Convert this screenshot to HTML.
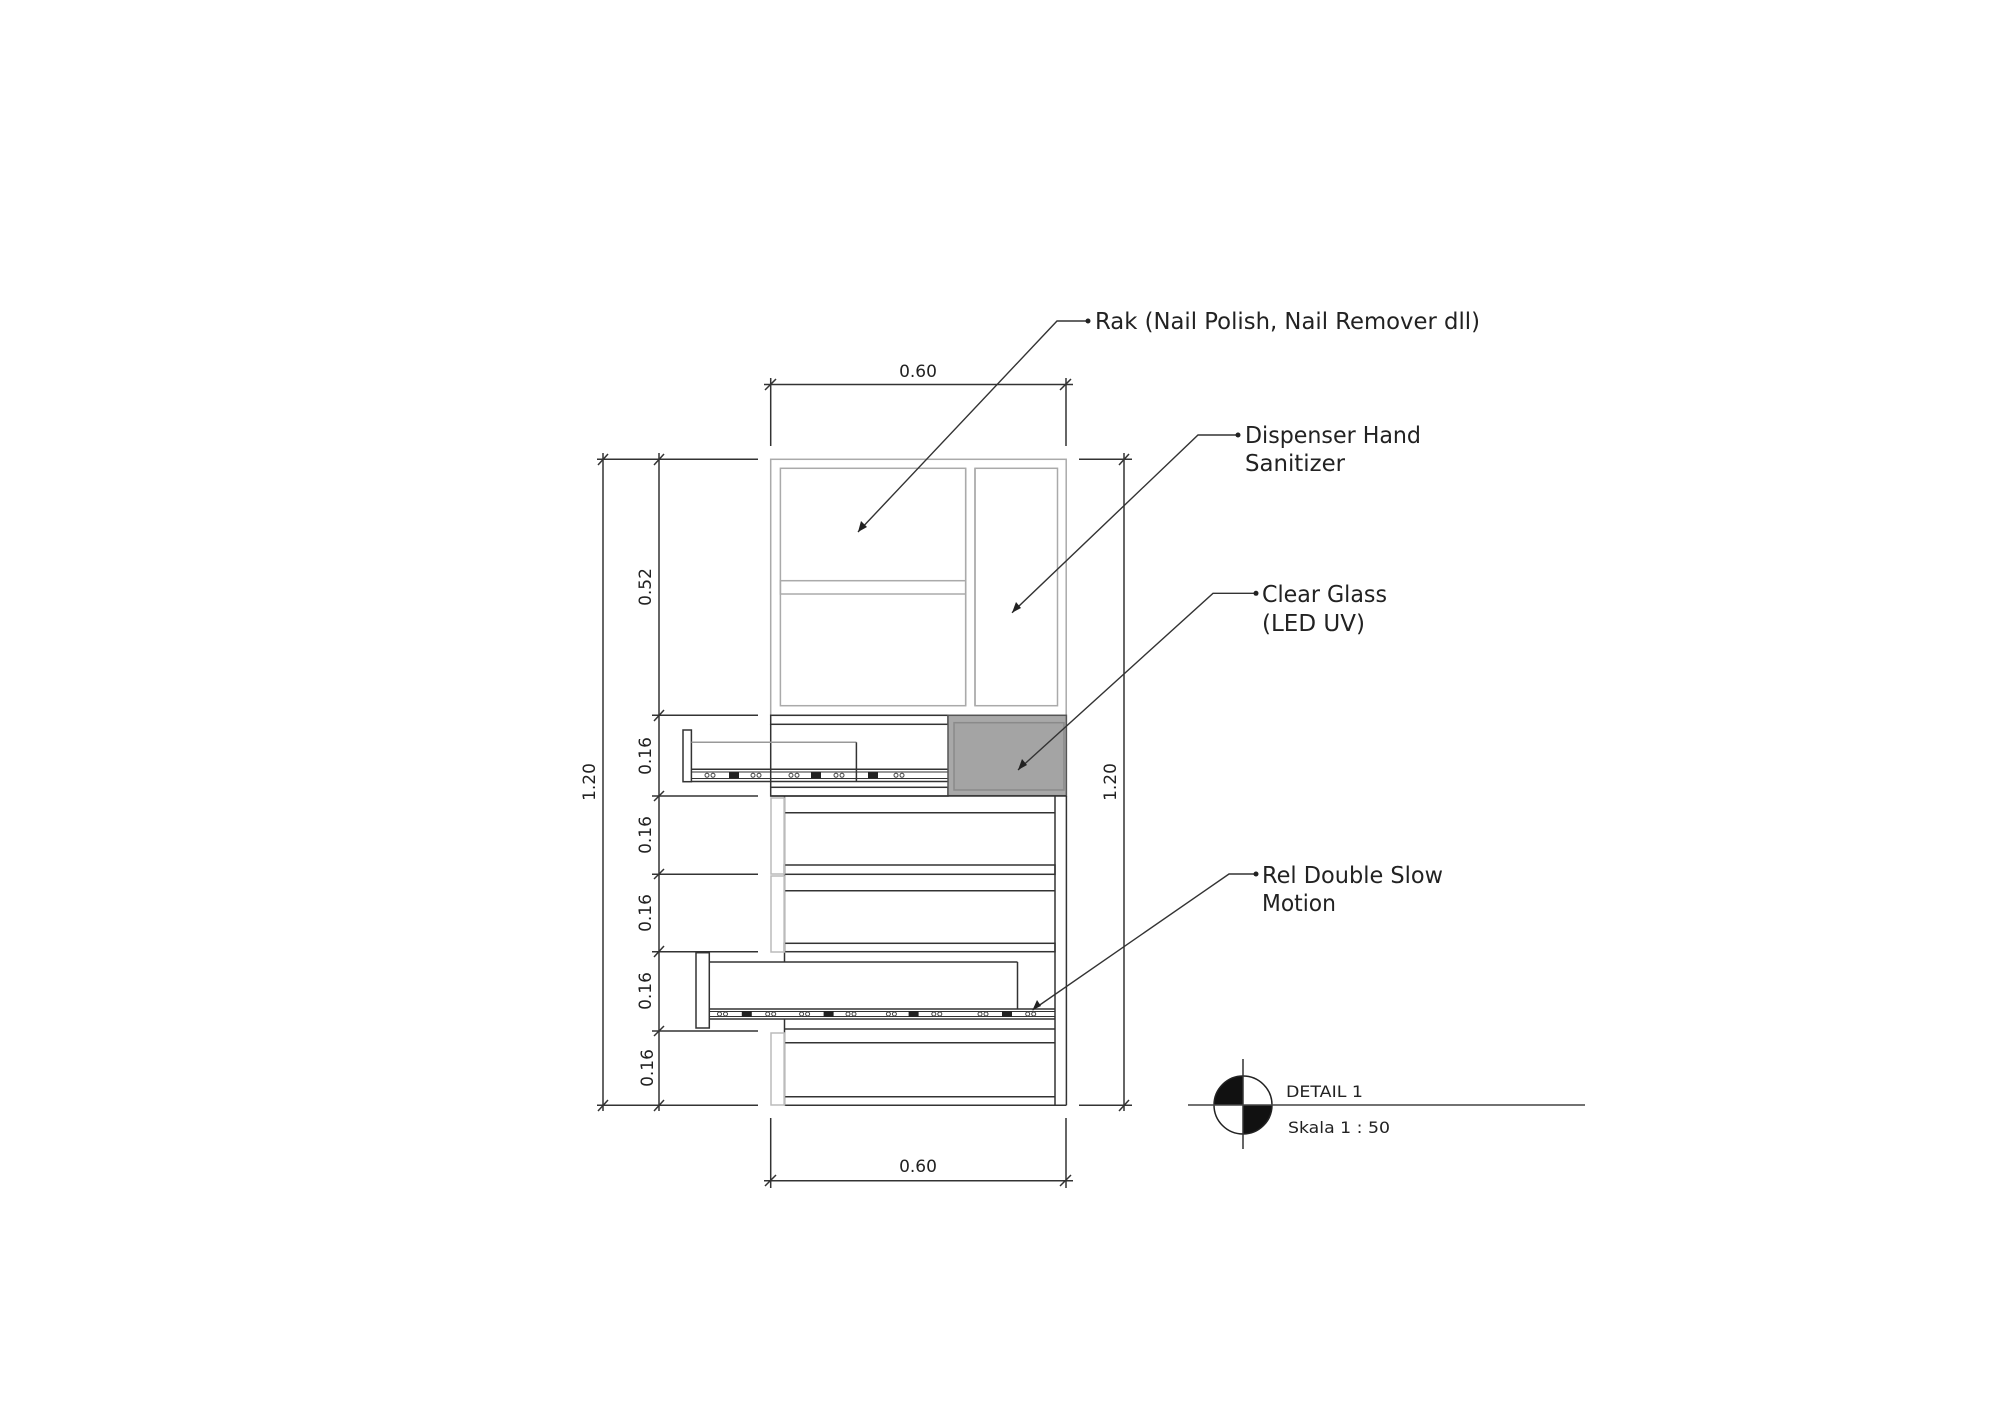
<!DOCTYPE html>
<html><head><meta charset="utf-8"><style>
html,body{margin:0;padding:0;background:#fff}
svg{display:block}
text{font-family:"DejaVu Sans","Liberation Sans",sans-serif;fill:#222}
</style></head><body>
<svg width="2000" height="1414" viewBox="0 0 2000 1414" xmlns="http://www.w3.org/2000/svg">
<defs>
<g id="oo"><circle cx="-3" cy="0" r="2" fill="none" stroke="#444" stroke-width="1"/><circle cx="3" cy="0" r="2" fill="none" stroke="#444" stroke-width="1"/></g>
<g id="sq"><rect x="-5" y="-3" width="10" height="6" fill="#222"/></g>
</defs>

<g stroke="#333" stroke-width="1.5" fill="none">
  <line x1="770.7" y1="378" x2="770.7" y2="446"/>
  <line x1="1066" y1="378" x2="1066" y2="446"/>
  <line x1="764" y1="384.5" x2="1073" y2="384.5"/>
  <line x1="765" y1="390" x2="776" y2="379"/>
  <line x1="1060" y1="390" x2="1071" y2="379"/>
  <line x1="770.7" y1="1118" x2="770.7" y2="1188"/>
  <line x1="1066" y1="1118" x2="1066" y2="1188"/>
  <line x1="764" y1="1180.7" x2="1073" y2="1180.7"/>
  <line x1="765" y1="1186" x2="776" y2="1175"/>
  <line x1="1060" y1="1186" x2="1071" y2="1175"/>
  <line x1="603" y1="453" x2="603" y2="1111"/>
  <line x1="597" y1="459.3" x2="758" y2="459.3"/>
  <line x1="597" y1="1105.3" x2="758" y2="1105.3"/>
  <line x1="598" y1="465" x2="608" y2="454"/>
  <line x1="598" y1="1111" x2="608" y2="1100"/>
  <line x1="659" y1="453" x2="659" y2="1111"/>
  <line x1="652" y1="715.3" x2="758" y2="715.3"/>
  <line x1="652" y1="796" x2="758" y2="796"/>
  <line x1="652" y1="874.3" x2="758" y2="874.3"/>
  <line x1="652" y1="951.7" x2="758" y2="951.7"/>
  <line x1="652" y1="1031" x2="758" y2="1031"/>
  <line x1="654" y1="465" x2="664" y2="454"/>
  <line x1="654" y1="721" x2="664" y2="710"/>
  <line x1="654" y1="801" x2="664" y2="791"/>
  <line x1="654" y1="879" x2="664" y2="869"/>
  <line x1="654" y1="957" x2="664" y2="946"/>
  <line x1="654" y1="1036" x2="664" y2="1026"/>
  <line x1="654" y1="1111" x2="664" y2="1100"/>
  <line x1="1124" y1="453" x2="1124" y2="1111"/>
  <line x1="1079" y1="459.3" x2="1132" y2="459.3"/>
  <line x1="1079" y1="1105.3" x2="1132" y2="1105.3"/>
  <line x1="1119" y1="465" x2="1129" y2="454"/>
  <line x1="1119" y1="1111" x2="1129" y2="1100"/>
</g>

<g font-size="17">
  <text x="918" y="377" text-anchor="middle">0.60</text>
  <text x="918" y="1172" text-anchor="middle">0.60</text>
  <text transform="translate(651,587) rotate(-90)" text-anchor="middle">0.52</text>
  <text transform="translate(651,756) rotate(-90)" text-anchor="middle">0.16</text>
  <text transform="translate(651,835) rotate(-90)" text-anchor="middle">0.16</text>
  <text transform="translate(651,913) rotate(-90)" text-anchor="middle">0.16</text>
  <text transform="translate(651,991) rotate(-90)" text-anchor="middle">0.16</text>
  <text transform="translate(653,1068) rotate(-90)" text-anchor="middle">0.16</text>
  <text transform="translate(595,782) rotate(-90)" text-anchor="middle">1.20</text>
  <text transform="translate(1116,782) rotate(-90)" text-anchor="middle">1.20</text>
</g>

<g stroke="#aaa" stroke-width="1.5" fill="none">
  <rect x="770.7" y="459.3" width="295.5" height="256"/>
  <rect x="780.4" y="468.3" width="185.3" height="237.4"/>
  <rect x="975" y="468.3" width="82.5" height="237.4"/>
  <line x1="965.7" y1="468.3" x2="965.7" y2="705.7"/>
  <line x1="975" y1="468.3" x2="975" y2="705.7"/>
  <rect x="780.4" y="580.7" width="185.3" height="13.3"/>
</g>

<g stroke="#333" stroke-width="1.5" fill="none">
  <rect x="770.7" y="715.3" width="177.3" height="9"/>
  <rect x="770.7" y="787.3" width="177.3" height="8.7"/>
  <line x1="770.7" y1="724" x2="770.7" y2="787"/>
  <rect x="683" y="730" width="8.4" height="51.7" fill="#fff"/>
  <line x1="691.4" y1="742.3" x2="856.4" y2="742.3" stroke="#999"/>
  <line x1="856.4" y1="742.3" x2="856.4" y2="781.5"/>
  <line x1="691.4" y1="769.3" x2="948" y2="769.3"/>
  <line x1="691.4" y1="772" x2="948" y2="772" stroke-width="1"/>
  <line x1="691.4" y1="778.5" x2="948" y2="778.5" stroke-width="1"/>
  <line x1="691.4" y1="781.5" x2="948" y2="781.5"/>
</g>
<g transform="translate(0,775.3)">
  <use href="#oo" x="710"/><use href="#sq" x="734"/><use href="#oo" x="756"/>
  <use href="#oo" x="794"/><use href="#sq" x="816"/><use href="#oo" x="839"/>
  <use href="#sq" x="873"/><use href="#oo" x="899"/>
</g>

<rect x="948" y="715.3" width="118.4" height="80.4" fill="#a8a8a8" stroke="#555" stroke-width="1.5"/>
<rect x="954" y="722.7" width="110" height="67.3" fill="#a4a4a4" stroke="#8a8a8a" stroke-width="1.5"/>

<g stroke="#333" stroke-width="1.5" fill="none">
  <line x1="770.7" y1="796" x2="1066.4" y2="796"/>
  <line x1="784.5" y1="1105.3" x2="1066.4" y2="1105.3"/>
  <line x1="784.5" y1="796" x2="784.5" y2="962"/>
  <line x1="784.5" y1="1019" x2="784.5" y2="1105.3"/>
  <line x1="1055" y1="796" x2="1055" y2="1105.3"/>
  <line x1="1066.4" y1="796" x2="1066.4" y2="1105.3"/>
  <line x1="784.5" y1="812.7" x2="1055" y2="812.7"/>
  <rect x="784.5" y="865" width="270.5" height="9.3"/>
  <line x1="784.5" y1="890.7" x2="1055" y2="890.7"/>
  <rect x="784.5" y="943.3" width="270.5" height="8.4"/>
  <rect x="696" y="952.7" width="13.3" height="75.3" fill="#fff"/>
  <line x1="709.3" y1="962" x2="1017.5" y2="962"/>
  <line x1="1017.5" y1="962" x2="1017.5" y2="1009"/>
  <line x1="709.3" y1="1009" x2="1055" y2="1009"/>
  <line x1="709.3" y1="1011.5" x2="1055" y2="1011.5" stroke-width="1"/>
  <line x1="709.3" y1="1016.5" x2="1055" y2="1016.5" stroke-width="1"/>
  <line x1="709.3" y1="1019" x2="1055" y2="1019"/>
  <line x1="784.5" y1="1029" x2="1055" y2="1029"/>
  <line x1="784.5" y1="1042.7" x2="1055" y2="1042.7"/>
  <line x1="784.5" y1="1096.7" x2="1055" y2="1096.7"/>
</g>
<g stroke="#bbb" stroke-width="1.5" fill="none">
  <rect x="771" y="798" width="13.5" height="76"/>
  <rect x="771" y="876" width="13.5" height="76"/>
  <rect x="771" y="1033" width="13.5" height="72"/>
</g>
<g transform="translate(0,1014)">
  <use href="#oo" x="722.5"/><use href="#sq" x="746.8"/><use href="#oo" x="770.7"/>
  <use href="#oo" x="804.6"/><use href="#sq" x="828.6"/><use href="#oo" x="851"/>
  <use href="#oo" x="891.4"/><use href="#sq" x="913.6"/><use href="#oo" x="936.8"/>
  <use href="#oo" x="983"/><use href="#sq" x="1007"/><use href="#oo" x="1030.7"/>
</g>

<g stroke="#333" stroke-width="1.4" fill="none">
  <polyline points="1087,321 1057,321 858,532"/>
  <polyline points="1237,435 1198,435 1012,612.7"/>
  <polyline points="1255,593.3 1213,593.3 1018,770"/>
  <polyline points="1255.6,874 1229,874 1032.5,1010"/>
</g>
<g fill="#222">
  <circle cx="1088" cy="321" r="2.5"/>
  <circle cx="1238" cy="435" r="2.5"/>
  <circle cx="1256" cy="593.3" r="2.5"/>
  <circle cx="1256" cy="874" r="2.5"/>
  <polygon points="858,532 861,521 867,527"/>
  <polygon points="1012,612.7 1016,602 1021,608"/>
  <polygon points="1018,770 1022,759 1027,765"/>
  <polygon points="1032.5,1010 1037,1000 1041,1006"/>
</g>

<g font-size="23">
  <text x="1095" y="329" textLength="385" lengthAdjust="spacingAndGlyphs">Rak (Nail Polish, Nail Remover dll)</text>
  <text x="1245" y="443" textLength="176" lengthAdjust="spacingAndGlyphs">Dispenser Hand</text>
  <text x="1245" y="471" textLength="100" lengthAdjust="spacingAndGlyphs">Sanitizer</text>
  <text x="1262" y="602" textLength="125" lengthAdjust="spacingAndGlyphs">Clear Glass</text>
  <text x="1262" y="631" textLength="103" lengthAdjust="spacingAndGlyphs">(LED UV)</text>
  <text x="1262" y="883" textLength="181" lengthAdjust="spacingAndGlyphs">Rel Double Slow</text>
  <text x="1262" y="911" textLength="74" lengthAdjust="spacingAndGlyphs">Motion</text>
</g>

<g>
  <path d="M1243,1105 L1214,1105 A29,29 0 0 1 1243,1076 Z" fill="#111"/>
  <path d="M1243,1105 L1272,1105 A29,29 0 0 1 1243,1134 Z" fill="#111"/>
  <circle cx="1243" cy="1105" r="29" fill="none" stroke="#222" stroke-width="1.5"/>
  <line x1="1243" y1="1059" x2="1243" y2="1149" stroke="#333" stroke-width="1.5"/>
  <line x1="1188" y1="1105" x2="1585" y2="1105" stroke="#444" stroke-width="1.5"/>
  <text x="1286" y="1097" font-size="16" textLength="77" lengthAdjust="spacingAndGlyphs">DETAIL 1</text>
  <text x="1288" y="1133" font-size="16" textLength="102" lengthAdjust="spacingAndGlyphs">Skala 1 : 50</text>
</g>
</svg>
</body></html>
